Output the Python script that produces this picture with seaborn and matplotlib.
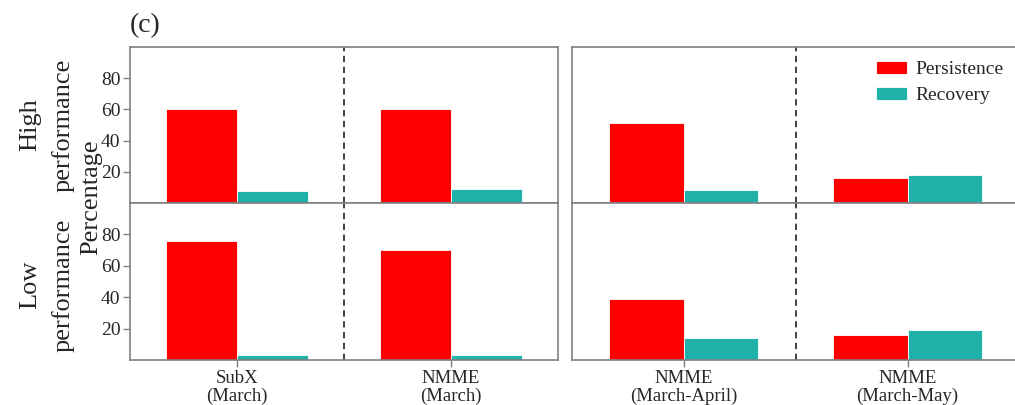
import matplotlib
matplotlib.use("Agg")
import matplotlib.pyplot as plt
import pandas as pd
import seaborn as sns

# Categories (x tick labels) and percentages per performance group
categories = ["SubX\n(March)", "NMME\n(March)", "NMME\n(March-April)", "NMME\n(March-May)"]
high_persistence = [60.5, 60, 51, 16]
high_recovery = [8, 9, 8.5, 18]
low_persistence = [76, 70, 39, 16]
low_recovery = [3, 3, 14, 19]
kinds = ["Persistence", "Recovery"]
palette = {"Persistence": "#ff0000", "Recovery": "#20b2aa"}


def frame(pers, reco, cats):
    return pd.DataFrame({
        "category": list(cats) * 2,
        "kind": [kinds[0]] * len(cats) + [kinds[1]] * len(cats),
        "value": list(pers) + list(reco),
    })


sns.set_theme(style="white")
plt.rcParams["font.family"] = ["Liberation Serif", "DejaVu Serif"]
plt.rcParams["axes.edgecolor"] = "#808080"
plt.rcParams["axes.linewidth"] = 1.2

W, H = 1015, 405
fig = plt.figure(figsize=(W / 100, H / 100), dpi=100)


def px_axes(x0, y0, x1, y1):
    return fig.add_axes([x0 / W, 1 - y1 / H, (x1 - x0) / W, (y1 - y0) / H])


cols = [(130, 558), (571.5, 1019.5)]
rows = [(47, 203), (203, 360)]
groups = [(0, 2), (2, 4)]
data_rows = [(high_persistence, high_recovery), (low_persistence, low_recovery)]

axes = {}
for r, (y0, y1) in enumerate(rows):
    for c, (x0, x1) in enumerate(cols):
        ax = px_axes(x0, y0, x1, y1)
        a, b = groups[c]
        pers, reco = data_rows[r]
        df = frame(pers[a:b], reco[a:b], categories[a:b])
        sns.barplot(data=df, x="category", y="value", hue="kind",
                    order=categories[a:b], hue_order=kinds, palette=palette,
                    width=2 / 3, saturation=1, edgecolor="white",
                    linewidth=0.6, ax=ax, legend=(r == 0 and c == 1))
        ax.set_xlim(-0.5, 1.5)
        ax.set_ylim(0, 100)
        ax.axvline(0.5, color="#333333", linestyle=(0, (3.5, 2.5)), linewidth=1.3)
        ax.set_xlabel("")
        ax.set_ylabel("")
        for s in ax.spines.values():
            s.set_visible(True)
            s.set_color("#808080")
        if c == 0:
            ax.set_yticks([20, 40, 60, 80])
            ax.tick_params(axis="y", labelsize=14, length=5, width=1,
                           color="#808080", pad=2, left=True)
        else:
            ax.set_yticks([])
        if r == 1:
            ax.tick_params(axis="x", labelsize=13.5, length=5, width=1,
                           color="#808080", pad=2, bottom=True)
            ax.set_xticks(range(2))
            ax.set_xticklabels(categories[a:b], linespacing=1.1)
        else:
            ax.set_xticks([])
        axes[(r, c)] = ax

leg_ax = axes[(0, 1)]
handles, labels = leg_ax.get_legend_handles_labels()
leg_ax.legend(handles, labels, loc="upper left",
              bbox_to_anchor=(862 / W, 1 - 47 / H), bbox_transform=fig.transFigure,
              frameon=False, fontsize=14, handlelength=1.6, handleheight=0.65,
              handletextpad=0.45, labelspacing=0.45, borderpad=0.2)

fig.text(47 / W, 1 - 125 / H, "High\nperformance", rotation=90, ha="center",
         va="center", fontsize=19, multialignment="center", linespacing=1.6)
fig.text(47 / W, 1 - 285 / H, "Low\nperformance", rotation=90, ha="center",
         va="center", fontsize=19, multialignment="center", linespacing=1.6)
fig.text(91 / W, 1 - 197 / H, "Percentage", rotation=90, ha="center",
         va="center", fontsize=19)
fig.text(130 / W, 1 - 26 / H, "(c)", ha="left", va="center", fontsize=20)

fig.savefig("out.png", dpi=100)
